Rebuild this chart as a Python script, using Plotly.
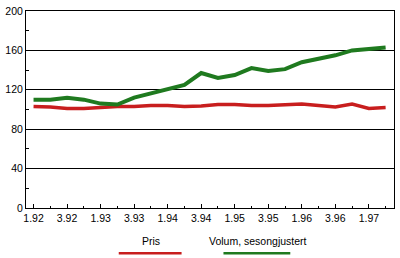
import plotly.graph_objects as go

quarters = ["1.92","2.92","3.92","4.92","1.93","2.93","3.93","4.93","1.94","2.94","3.94","4.94",
            "1.95","2.95","3.95","4.95","1.96","2.96","3.96","4.96","1.97","2.97"]
pris = [103, 102.5, 101, 101, 102, 103, 103, 104, 104, 103, 103.5, 105,
        105, 104, 104, 105, 105.5, 104, 102.5, 105.5, 101, 102]
volum = [110, 110, 112, 110, 106, 105, 112, 116, 120, 125, 137, 132,
         135, 142, 139, 141, 148, 151, 155, 160, 161, 163]
y_ticks = [0, 40, 80, 120, 160, 200]

W, H = 400, 258
L, R, T, B = 26, 395, 8, 208
RED = "#c81e1e"
GREEN = "#1f7a1f"
FONT = "Liberation Sans"

idx = list(range(len(quarters)))
fig = go.Figure()
fig.add_trace(go.Scatter(x=idx, y=pris, mode="lines", line=dict(color=RED, width=3.5), name="Pris"))
fig.add_trace(go.Scatter(x=idx, y=volum, mode="lines", line=dict(color=GREEN, width=4), name="Volum, sesongjustert"))

major = idx[0::2]
minor = idx[1::2]
fig.update_xaxes(range=[-0.45, 21.5], tickmode="array", tickvals=major,
                 ticktext=[quarters[i] for i in major], ticks="inside", ticklen=4,
                 tickcolor="black", showgrid=False, showline=True, linecolor="black",
                 linewidth=1, mirror=True, zeroline=False,
                 minor=dict(tickmode="array", tickvals=minor, ticks="inside", ticklen=2, tickcolor="black"),
                 tickfont=dict(family=FONT, size=10.5, color="black"))
fig.update_yaxes(range=[0, 200], tickmode="array", tickvals=y_ticks, ticks="",
                 showgrid=True, gridcolor="black", gridwidth=1, showline=True,
                 linecolor="black", linewidth=1, mirror=True, zeroline=False,
                 minor=dict(tickmode="array", tickvals=[20, 60, 100, 140, 180], ticks="inside",
                            ticklen=3, tickcolor="black"),
                 tickfont=dict(family=FONT, size=10.5, color="black"))

def px(x):
    return (x - L) / (R - L)

def py(y):
    return (B - y) / (B - T)

shapes = [
    dict(type="line", xref="paper", yref="paper", x0=px(119), x1=px(182), y0=py(254), y1=py(254),
         line=dict(color=RED, width=2.5)),
    dict(type="line", xref="paper", yref="paper", x0=px(224), x1=px(291), y0=py(254), y1=py(254),
         line=dict(color=GREEN, width=2.5)),
]
annotations = [
    dict(text="Pris", xref="paper", yref="paper", x=px(151), y=py(242), showarrow=False,
         xanchor="center", yanchor="middle", font=dict(family=FONT, size=10.5, color="black")),
    dict(text="Volum, sesongjustert", xref="paper", yref="paper", x=px(259), y=py(242), showarrow=False,
         xanchor="center", yanchor="middle", font=dict(family=FONT, size=10.5, color="black")),
]

fig.update_layout(width=W, height=H, margin=dict(l=L, r=W - R, t=T, b=H - B),
                  plot_bgcolor="white", paper_bgcolor="white", showlegend=False,
                  shapes=shapes, annotations=annotations)
fig.write_html("out.html")
